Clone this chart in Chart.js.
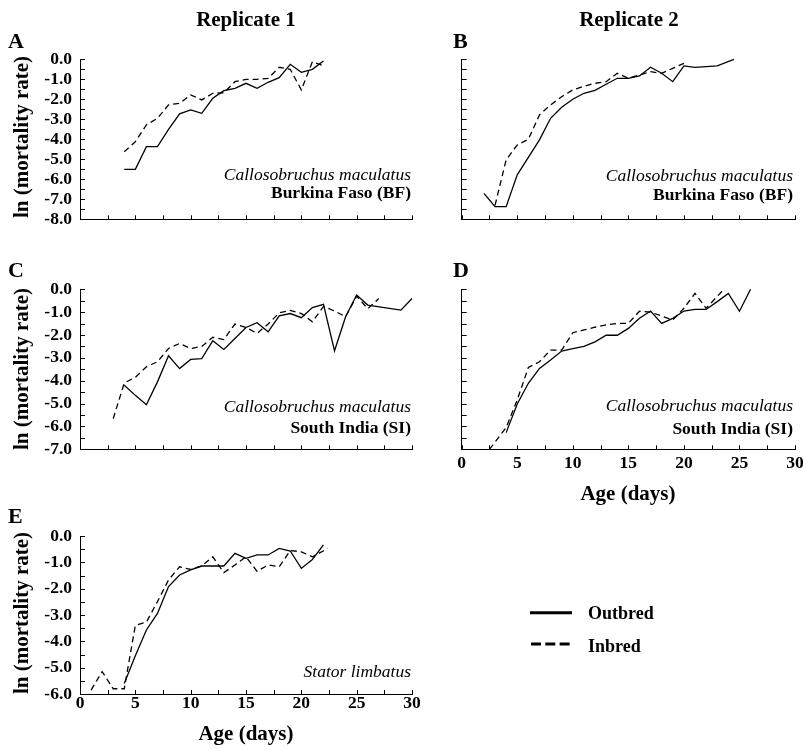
<!DOCTYPE html>
<html><head><meta charset="utf-8">
<script src="https://cdn.jsdelivr.net/npm/chart.js@4"></script>
<style>
html,body{margin:0;padding:0;background:#fff;}
#wrap{position:relative;width:803px;height:750px;overflow:hidden;background:#fff;}
canvas{position:absolute;}
svg{position:absolute;left:0;top:0;}
svg text{font-family:'Liberation Serif','Times New Roman',serif;fill:#000;}
</style></head><body>
<div id="wrap">
<canvas id="cA"></canvas><canvas id="cB"></canvas><canvas id="cC"></canvas><canvas id="cD"></canvas><canvas id="cE"></canvas>
<svg width="803" height="750" viewBox="0 0 803 750">
  <text x="246" y="26" text-anchor="middle" font-weight="bold" font-size="21">Replicate 1</text>
  <text x="629" y="26" text-anchor="middle" font-weight="bold" font-size="21">Replicate 2</text>
  <text x="8" y="48" font-weight="bold" font-size="22">A</text>
  <text x="453" y="48" font-weight="bold" font-size="22">B</text>
  <text x="8" y="277" font-weight="bold" font-size="22">C</text>
  <text x="453" y="277" font-weight="bold" font-size="22">D</text>
  <text x="8" y="523" font-weight="bold" font-size="22">E</text>
  <text transform="translate(28,137) rotate(-90)" text-anchor="middle" font-weight="bold" font-size="21">ln (mortality rate)</text>
  <text transform="translate(28,369) rotate(-90)" text-anchor="middle" font-weight="bold" font-size="21">ln (mortality rate)</text>
  <text transform="translate(28,613) rotate(-90)" text-anchor="middle" font-weight="bold" font-size="21">ln (mortality rate)</text>
  <text x="628" y="500" text-anchor="middle" font-weight="bold" font-size="21">Age (days)</text>
  <text x="246" y="740" text-anchor="middle" font-weight="bold" font-size="21">Age (days)</text>
  <text x="411" y="180" text-anchor="end" font-style="italic" font-size="17.5">Callosobruchus maculatus</text>
  <text x="411" y="197.5" text-anchor="end" font-weight="bold" font-size="17.5">Burkina Faso (BF)</text>
  <text x="793" y="181" text-anchor="end" font-style="italic" font-size="17.5">Callosobruchus maculatus</text>
  <text x="793" y="199.5" text-anchor="end" font-weight="bold" font-size="17.5">Burkina Faso (BF)</text>
  <text x="411" y="411.5" text-anchor="end" font-style="italic" font-size="17.5">Callosobruchus maculatus</text>
  <text x="411" y="433" text-anchor="end" font-weight="bold" font-size="17.5">South India (SI)</text>
  <text x="793" y="411" text-anchor="end" font-style="italic" font-size="17.5">Callosobruchus maculatus</text>
  <text x="793" y="433.5" text-anchor="end" font-weight="bold" font-size="17.5">South India (SI)</text>
  <text x="411" y="677" text-anchor="end" font-style="italic" font-size="17.5">Stator limbatus</text>
  <line x1="530" y1="612.7" x2="572" y2="612.7" stroke="#000" stroke-width="3"/>
  <line x1="531" y1="644" x2="571" y2="644" stroke="#000" stroke-width="3" stroke-dasharray="10,4.3"/>
  <text x="588" y="619" font-weight="bold" font-size="18">Outbred</text>
  <text x="588" y="651.5" font-weight="bold" font-size="18">Inbred</text>
</svg>
</div>
<script>
// ---- Data ----
const xTickLabels = ['0','5','10','15','20','25','30'];
const yTickLabels8 = ['0.0','-1.0','-2.0','-3.0','-4.0','-5.0','-6.0','-7.0','-8.0'];
const yTickLabels7 = ['0.0','-1.0','-2.0','-3.0','-4.0','-5.0','-6.0','-7.0'];
const yTickLabels6 = ['0.0','-1.0','-2.0','-3.0','-4.0','-5.0','-6.0'];

// Panel A: Burkina Faso, replicate 1
const aOutDays = [4,5,6,7,8,9,10,11,12,13,14,15,16,17,18,19,20,21,22];
const aOutVals = [-5.5,-5.5,-4.37,-4.37,-3.5,-2.73,-2.53,-2.7,-1.95,-1.57,-1.45,-1.2,-1.45,-1.15,-0.92,-0.25,-0.65,-0.5,-0.08];
const aInDays  = [4,5,6,7,8,9,10,11,12,13,14,15,16,17,18,19,20,21,22];
const aInVals  = [-4.62,-4.12,-3.28,-2.95,-2.28,-2.2,-1.78,-2.03,-1.7,-1.67,-1.12,-1.0,-1.0,-0.95,-0.4,-0.5,-1.53,-0.12,-0.33];

// Panel B: Burkina Faso, replicate 2
const bOutDays = [2,3,4,5,6,7,8,9,10,11,12,13,14,15,16,17,18,19,20,21,22,23,24.5];
const bOutVals = [-6.7,-7.37,-7.37,-5.78,-4.9,-4.03,-2.95,-2.4,-2.0,-1.7,-1.55,-1.25,-0.95,-0.95,-0.83,-0.4,-0.7,-1.12,-0.33,-0.4,-0.37,-0.33,0.0];
const bInDays  = [3,4,5,6,7,8,9,10,11,12,13,14,15,16,17,18,19,20];
const bInVals  = [-7.3,-5.03,-4.28,-4.0,-2.78,-2.28,-1.87,-1.53,-1.35,-1.2,-1.12,-0.7,-0.95,-0.78,-0.62,-0.7,-0.45,-0.2];

// Panel C: South India, replicate 1
const cOutDays = [4,5,6,7,8,9,10,11,12,13,14,15,16,17,18,19,20,21,22,23,24,25,26,29,30];
const cOutVals = [-4.2,-4.64,-5.05,-4.05,-2.91,-3.47,-3.07,-3.03,-2.25,-2.63,-2.15,-1.67,-1.46,-1.86,-1.16,-1.06,-1.24,-0.8,-0.66,-2.69,-1.2,-0.25,-0.69,-0.91,-0.4];
const cInDays  = [3,4,5,6,7,8,9,10,11,12,13,14,15,16,17,18,19,20,21,22,23,24,25,26,27];
const cInVals  = [-5.66,-4.1,-3.85,-3.39,-3.17,-2.59,-2.37,-2.59,-2.5,-2.1,-2.2,-1.52,-1.67,-1.93,-1.52,-1.03,-0.92,-1.06,-1.42,-0.75,-0.95,-1.2,-0.3,-0.85,-0.4];

// Panel D: South India, replicate 2
const dOutDays = [4,5,6,7,8,9,10,11,12,13,14,15,16,17,18,19,20,21,22,23,24,25,26];
const dOutVals = [-6.27,-5.02,-4.11,-3.46,-3.09,-2.7,-2.6,-2.5,-2.3,-2.01,-2.01,-1.71,-1.27,-0.95,-1.49,-1.27,-0.95,-0.88,-0.88,-0.54,-0.18,-0.96,0.0];
const dInDays  = [2.5,4,5,6,7,8,9,10,11,12,13,14,15,16,17,18,19,20,21,22,23.5];
const dInVals  = [-7.0,-6.05,-4.84,-3.42,-3.17,-2.66,-2.66,-1.9,-1.78,-1.66,-1.56,-1.49,-1.49,-0.96,-1.0,-1.17,-1.34,-0.83,-0.18,-0.83,-0.05];

// Panel E: Stator limbatus
const eOutDays = [4,5,6,7,8,9,10,11,12,13,14,15,16,17,18,19,20,21,22];
const eOutVals = [-5.6,-4.55,-3.57,-2.94,-1.92,-1.48,-1.29,-1.14,-1.14,-1.14,-0.66,-0.85,-0.72,-0.72,-0.47,-0.57,-1.23,-0.89,-0.34];
const eInDays  = [1,2,3,4,5,6,7,8,9,10,11,12,13,14,15,16,17,18,19,20,21,22.4];
const eInVals  = [-5.85,-5.15,-5.8,-5.8,-3.39,-3.27,-2.49,-1.67,-1.17,-1.27,-1.14,-0.79,-1.39,-1.1,-0.79,-1.34,-1.1,-1.17,-0.55,-0.6,-0.79,-0.47];

// ---- Rendering ----
Chart.defaults.font.family = "'Liberation Serif','Times New Roman',serif";
Chart.defaults.color = '#000';

const inwardTicks = {
  id: 'inwardTicks',
  afterDraw(chart) {
    const {ctx, chartArea: a, scales: {x, y}} = chart;
    ctx.save();
    ctx.strokeStyle = '#000';
    ctx.lineWidth = 1;
    ctx.beginPath();
    x.ticks.forEach(t => {
      const px = Math.round(x.getPixelForValue(t.value)) + 0.5;
      ctx.moveTo(px, a.bottom); ctx.lineTo(px, a.bottom - 4);
    });
    y.ticks.forEach(t => {
      const py = Math.round(y.getPixelForValue(t.value)) + 0.5;
      ctx.moveTo(a.left, py); ctx.lineTo(a.left + 5, py);
    });
    ctx.stroke();
    ctx.restore();
  }
};

function series(days, vals, dashed) {
  return {
    data: days.map((d, i) => ({x: d, y: vals[i]})),
    borderColor: '#000',
    borderWidth: 1.3,
    borderDash: dashed ? [6, 4] : [],
    pointRadius: 0,
    tension: 0,
    fill: false,
    clip: false
  };
}

const tickFont = {size: 17.5, weight: 'bold', lineHeight: 1};

function panel(id, left, top, w, h, area, yMin, yLabels, showX, xPad, datasets) {
  const cv = document.getElementById(id);
  cv.width = w; cv.height = h;
  cv.style.left = left + 'px'; cv.style.top = top + 'px';
  cv.style.width = w + 'px'; cv.style.height = h + 'px';
  new Chart(cv, {
    type: 'line',
    data: {datasets},
    options: {
      responsive: false,
      animation: false,
      devicePixelRatio: 1,
      layout: {padding: {top: area.top - top, right: left + w - area.right, bottom: 0, left: 0}},
      plugins: {legend: {display: false}, tooltip: {enabled: false}},
      scales: {
        x: {
          type: 'linear', min: 0, max: 30,
          afterFit: s => { s.height = top + h - area.bottom; s.paddingLeft = 0; s.paddingRight = 0; },
          grid: {display: false, drawTicks: false},
          border: {display: true, color: '#000', width: 1},
          ticks: {
            display: showX, stepSize: 2.5, autoSkip: false, maxRotation: 0, minRotation: 0,
            maxTicksLimit: 100, padding: xPad, font: tickFont, color: '#000',
            callback: v => { const k = Math.round(v / 5); return Math.abs(v / 5 - k) < 1e-6 ? xTickLabels[k] : ''; }
          }
        },
        y: {
          type: 'linear', min: yMin, max: 0,
          afterFit: s => { s.width = area.left - left; s.paddingTop = 0; s.paddingBottom = 0; },
          grid: {display: false, drawTicks: false},
          border: {display: true, color: '#000', width: 1},
          ticks: {
            display: !!yLabels, stepSize: 0.5, autoSkip: false, maxTicksLimit: 100,
            padding: 8, font: tickFont, color: '#000',
            callback: v => { const k = Math.round(-v); return (yLabels && Math.abs(v + k) < 1e-6) ? yLabels[k] : ''; }
          }
        }
      }
    },
    plugins: [inwardTicks]
  });
}

panel('cA', 0, 40, 420, 195, {left: 80, top: 59.3, right: 412, bottom: 219.3}, -8, yTickLabels8, false, 0,
  [series(aOutDays, aOutVals, false), series(aInDays, aInVals, true)]);
panel('cB', 420, 40, 383, 195, {left: 461.7, top: 59.3, right: 795, bottom: 219.3}, -8, null, false, 0,
  [series(bOutDays, bOutVals, false), series(bInDays, bInVals, true)]);
panel('cC', 0, 270, 420, 200, {left: 80, top: 289.3, right: 412, bottom: 449.3}, -7, yTickLabels7, false, 0,
  [series(cOutDays, cOutVals, false), series(cInDays, cInVals, true)]);
panel('cD', 420, 270, 383, 210, {left: 461.7, top: 289.3, right: 795, bottom: 449.3}, -7, null, true, 5.5,
  [series(dOutDays, dOutVals, false), series(dInDays, dInVals, true)]);
panel('cE', 0, 515, 420, 205, {left: 80, top: 536, right: 412, bottom: 694}, -6, yTickLabels6, true, 0.5,
  [series(eOutDays, eOutVals, false), series(eInDays, eInVals, true)]);
</script>
</body></html>
